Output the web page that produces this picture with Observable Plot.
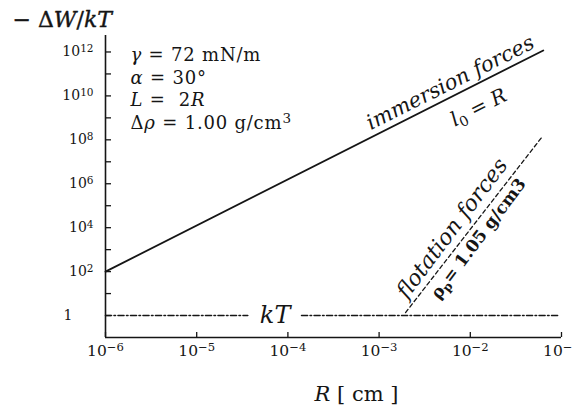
<!DOCTYPE html>
<html><head><meta charset="utf-8">
<script src="https://cdn.jsdelivr.net/npm/d3@7"></script>
<script src="https://cdn.jsdelivr.net/npm/@observablehq/plot@0.6"></script>
<style>body{margin:0;background:#fff}</style>
</head><body><div id="chart"></div>
<script>
// ---- data (log10 values) ----
const xTickExponents = [-6, -5, -4, -3, -2, -1];
const yTickExponents = [0, 1, 2, 3, 4, 5, 6, 7, 8, 9, 10, 11, 12];
const yLabelExponents = [0, 2, 4, 6, 8, 10, 12];
const immersionLogR = [-6, -1.2];
const immersionLogW = [2, 12.07];
const flotationLogR = [-2.71, -1.21];
const flotationLogW = [0.135, 8.15];
const kTLogW = 0;
const kTLeftLogR = [-6, -4.44];
const kTRightLogR = [-3.85, -1.03];
const parameterLines = ["*γ* = 72 mN/m", "*α* = 30°", "*L* =  2*R*", "Δ*ρ* = 1.00 g/cm^3^"];
const yTitle = "− Δ*W*/*kT*";
const xTitle = "*R* [ cm ]";
const immersionLabel = {logR: -2.22, logW: 10.6, text: "immersion forces"};
const l0Label = {logR: -1.91, logW: 9.47, text: "*l*~0~ = *R*"};
const flotationLabel = {logR: -2.2, logW: 3.97, text: "flotation forces"};
const rhoLabel = {logR: -1.91, logW: 3.5, text: "ρ~p~= 1.05 g/cm3"};
const kTLabel = {logR: -4.14, logW: 0, text: "*kT*"};

const pow10 = e => e === 0 ? "1\u2003\u2002" : "10^" + (e < 0 ? "−" + (-e) : e) + "^";
const P = e => 10 ** e;

const immersion = immersionLogR.map((r, i) => ({R: P(r), W: P(immersionLogW[i])}));
const flotation = flotationLogR.map((r, i) => ({R: P(r), W: P(flotationLogW[i])}));
const kT = [
  ...kTLeftLogR.map(r => ({R: P(r), W: P(kTLogW), s: "a"})),
  ...kTRightLogR.map(r => ({R: P(r), W: P(kTLogW), s: "b"}))
];
const lab = o => [{R: P(o.logR), W: P(o.logW), t: o.text}];

const W = 573, H = 414, mL = 105, mR = 12, mT = 35, mB = 77;
const ink = "#151515";
const plot = Plot.plot({
  width: W, height: H,
  marginLeft: mL, marginRight: mR, marginTop: mT, marginBottom: mB,
  style: {fontFamily: "DejaVu Serif", fontSize: "14px", color: ink, background: "#fff"},
  x: {type: "log", domain: [1e-6, 1e-1]},
  y: {type: "log", domain: [1e-1, 10 ** 12.75]},
  marks: [
    Plot.axisY(yTickExponents.map(P), {
      tickSize: 0, tickPadding: 12, label: null, fontSize: 14,
      tickFormat: d => { const e = Math.round(Math.log10(d)); return yLabelExponents.includes(e) ? pow10(e) : ""; }
    }),
    Plot.axisX(xTickExponents.map(P), {
      tickSize: 0, tickPadding: 7, label: null, fontSize: 15.5,
      tickFormat: d => pow10(Math.round(Math.log10(d)))
    }),
    // inward ticks
    Plot.tickY(yTickExponents.map(P), {stroke: ink, strokeWidth: 1.3, insetRight: (W - mL - mR) - 6}),
    Plot.tickX(xTickExponents.map(P), {stroke: ink, strokeWidth: 1.3, insetTop: (H - mT - mB) - 5}),
    Plot.ruleX([1e-6], {stroke: ink, strokeWidth: 1.6}),
    Plot.ruleY([1e-1], {stroke: ink, strokeWidth: 1.6}),
    Plot.line(immersion, {x: "R", y: "W", stroke: ink, strokeWidth: 1.8}),
    Plot.line(flotation, {x: "R", y: "W", stroke: ink, strokeWidth: 1.3, strokeDasharray: "4,3"}),
    Plot.line(kT, {x: "R", y: "W", z: "s", stroke: ink, strokeWidth: 1.6, strokeDasharray: "6,2.5,1.5,2.5"}),
    Plot.text(lab(immersionLabel), {x: "R", y: "W", text: "t", rotate: -26.7, fontStyle: "italic", fontSize: 21, fill: ink}),
    Plot.text(lab(l0Label), {x: "R", y: "W", text: "t", rotate: -26.7, fontSize: 20, fill: ink}),
    Plot.text(lab(flotationLabel), {x: "R", y: "W", text: "t", rotate: -53, fontStyle: "italic", fontSize: 22, fill: ink}),
    Plot.text(lab(rhoLabel), {x: "R", y: "W", text: "t", rotate: -53, fontWeight: "bold", fontSize: 17, fill: ink}),
    Plot.text(lab(kTLabel), {x: "R", y: "W", text: "t", fontSize: 24, fill: ink}),
    Plot.text([yTitle], {frameAnchor: "top-left", textAnchor: "start", lineAnchor: "top", dx: -93, dy: -24, fontSize: 22, fill: ink, stroke: ink, strokeWidth: 0.4}),
    Plot.text([parameterLines.join("\n")], {frameAnchor: "top-left", textAnchor: "start", lineAnchor: "top", lineHeight: 1.25, dx: 25, dy: 10, fontSize: 18, fill: ink, ariaDescription: "params"}),
    Plot.text([xTitle], {frameAnchor: "bottom", dx: 23, dy: 63, fontSize: 21, fill: ink})
  ]
});

// rich text: *italic*, ~sub~, ^sup^
function richify(svg) {
  const NS = "http://www.w3.org/2000/svg";
  svg.querySelectorAll("text").forEach(t => {
    const spans = t.querySelectorAll("tspan");
    const nodes = spans.length ? [...spans] : [t];
    nodes.forEach(n => {
      const s = n.textContent;
      if (!/[*~^]/.test(s)) return;
      n.textContent = "";
      s.split(/(\*[^*]+\*|~[^~]+~|\^[^^]+\^)/g).filter(Boolean).forEach(part => {
        const ts = document.createElementNS(NS, "tspan");
        const c = part[0];
        if (c === "*" || c === "~" || c === "^") ts.textContent = part.slice(1, -1); else ts.textContent = part;
        if (c === "*") ts.setAttribute("font-style", "italic");
        if (c === "~") { ts.setAttribute("baseline-shift", "-25%"); ts.setAttribute("font-size", "70%"); }
        if (c === "^") { ts.setAttribute("baseline-shift", "40%"); ts.setAttribute("font-size", "75%"); }
        n.appendChild(ts);
      });
    });
  });
}
richify(plot);
const params = plot.querySelector('[aria-description="params"]');
if (params) params.setAttribute("letter-spacing", "0.8");
document.getElementById("chart").appendChild(plot);
</script>
</body></html>
